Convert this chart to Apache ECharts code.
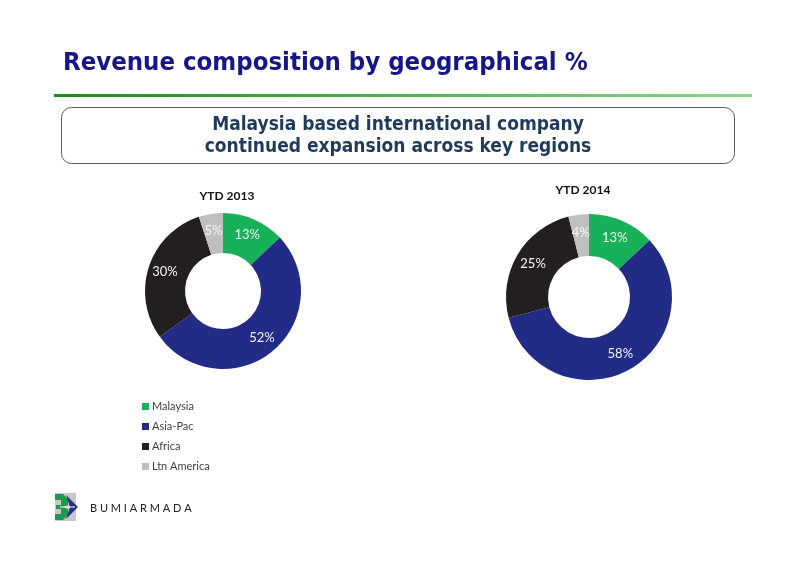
<!DOCTYPE html>
<html>
<head>
<meta charset="utf-8">
<script src="https://cdn.jsdelivr.net/npm/echarts@6/dist/echarts.min.js"></script>
<style>
html,body{margin:0;padding:0;background:#fff;}
#chart{width:800px;height:565px;}
</style>
</head>
<body>
<div id="chart"></div>
<script>
const categories = ['Malaysia', 'Asia-Pac', 'Africa', 'Ltn America'];
const ytd2013 = [13, 52, 30, 5];
const ytd2014 = [13, 58, 25, 4];
const pieTitles = ['YTD 2013', 'YTD 2014'];
const colors = ['#17b15a', '#222b85', '#231f20', '#bfbfbf'];

const headFont = "'DejaVu Sans Condensed', 'DejaVu Sans', sans-serif";
const bodyFont = "Lato, 'Open Sans', sans-serif";

function toData(vals) {
  return categories.map((n, i) => ({ name: n, value: vals[i], itemStyle: { color: colors[i] } }));
}

function pieSeries(vals, center, radius) {
  return {
    type: 'pie',
    center: center,
    radius: radius,
    startAngle: 90,
    clockwise: true,
    avoidLabelOverlap: false,
    silent: true,
    label: {
      show: true,
      position: 'inside',
      formatter: '{c}%',
      color: '#f4f4f4',
      fontSize: 13,
      fontFamily: bodyFont
    },
    labelLine: { show: false },
    itemStyle: { borderWidth: 0 },
    data: toData(vals)
  };
}

const chart = echarts.init(document.getElementById('chart'), null, { renderer: 'canvas' });
chart.setOption({
  backgroundColor: '#ffffff',
  animation: false,
  title: [
    { text: pieTitles[0], left: 222, top: 185, textAlign: 'center',
      textStyle: { fontSize: 12, fontWeight: 'bold', color: '#111', fontFamily: bodyFont } },
    { text: pieTitles[1], left: 578, top: 179, textAlign: 'center',
      textStyle: { fontSize: 12, fontWeight: 'bold', color: '#111', fontFamily: bodyFont } }
  ],
  legend: {
    orient: 'vertical',
    left: 137,
    top: 396,
    itemWidth: 7,
    itemHeight: 7,
    itemGap: 9,
    icon: 'rect',
    data: categories,
    textStyle: { fontSize: 11, color: '#404040', fontFamily: bodyFont, padding: [0, 0, 0, -2] }
  },
  series: [
    pieSeries(ytd2013, [223, 291], [38, 78]),
    pieSeries(ytd2014, [589, 297], [41, 83])
  ],
  graphic: [
    { type: 'text', left: 63, top: 50,
      style: { text: 'Revenue composition by geographical %', font: 'bold 25.5px ' + headFont, fill: '#16168a' } },
    { type: 'rect', shape: { x: 54, y: 94, width: 698, height: 3 },
      style: { fill: new echarts.graphic.LinearGradient(0, 0, 1, 0, [
        { offset: 0, color: '#14901c' }, { offset: 1, color: '#8cd48c' }]) } },
    { type: 'rect', shape: { x: 61.5, y: 107.5, width: 673, height: 56, r: 10 },
      style: { fill: 'none', stroke: '#5a5a5a', lineWidth: 1 } },
    { type: 'text', x: 398, y: 125,
      style: { text: 'Malaysia based international company', font: 'bold 19px ' + headFont,
        fill: '#1f3a5c', align: 'center', verticalAlign: 'middle' } },
    { type: 'text', x: 398, y: 147,
      style: { text: 'continued expansion across key regions', font: 'bold 19px ' + headFont,
        fill: '#1f3a5c', align: 'center', verticalAlign: 'middle' } },
    // logo
    { type: 'rect', shape: { x: 55, y: 493, width: 21, height: 28 }, style: { fill: '#c8c8c8' } },
    { type: 'polygon', shape: { points: [[55,494],[63,494],[68,499],[68,505],[63,507],[68,509],[68,515],[63,520],[55,520],[55,514],[61,514],[61,509],[56,509],[56,505],[61,505],[61,500],[55,500]] },
      style: { fill: '#1f9a4a' } },
    { type: 'polygon', shape: { points: [[66,495],[78,507],[66,519],[70,507]] }, style: { fill: '#26307f' } },
    { type: 'polyline', shape: { points: [[60,507],[75,507]] }, style: { stroke: '#ffffff', lineWidth: 1 } },
    { type: 'text', left: 90, top: 503,
      style: { text: 'B U M I A R M A D A', font: '11px ' + bodyFont, fill: '#222' } }
  ]
});
</script>
</body>
</html>
